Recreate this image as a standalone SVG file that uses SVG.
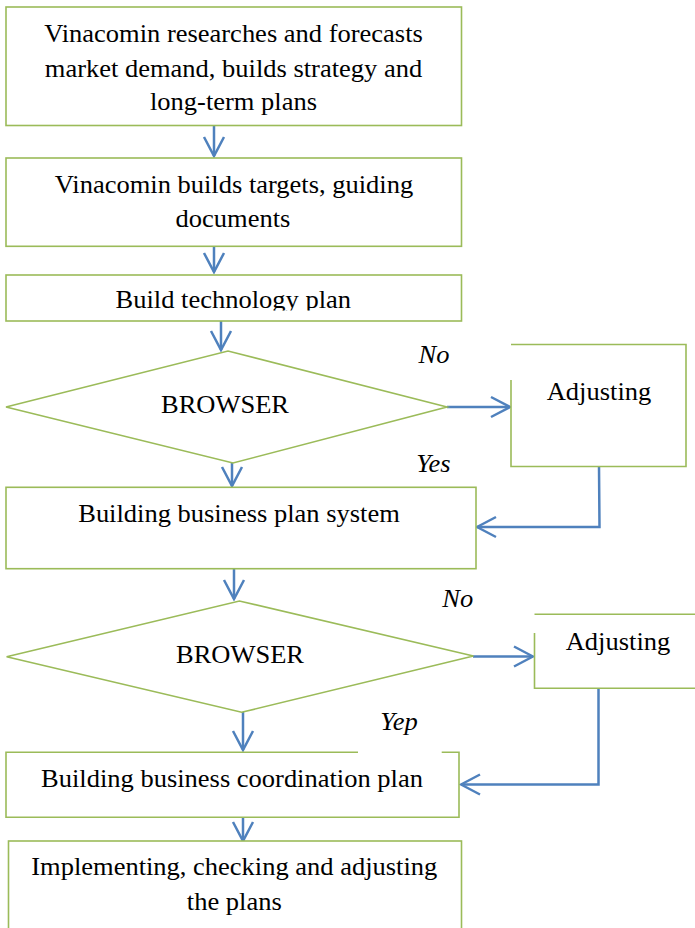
<svg xmlns="http://www.w3.org/2000/svg" width="695" height="928" viewBox="0 0 695 928">
<defs>
<marker id="ah" viewBox="-21 -12 23 24" refX="0" refY="0" markerWidth="23" markerHeight="24" markerUnits="userSpaceOnUse" orient="auto">
<path d="M-19,-10 L0,0 L-19,10" fill="none" stroke="#4F81BD" stroke-width="2.5"/>
</marker>
<clipPath id="clip3"><rect x="0" y="270" width="440" height="40.5"/></clipPath>
</defs>
<rect width="695" height="928" fill="#fff"/>

<g id="connectors" fill="none" stroke="#4F81BD" stroke-width="2.5" marker-end="url(#ah)">
<line x1="214" y1="126" x2="214" y2="156"/>
<line x1="214" y1="247" x2="214" y2="272"/>
<line x1="221" y1="321" x2="221" y2="350"/>
<line x1="447" y1="407" x2="510" y2="407"/>
<line x1="232" y1="463" x2="232" y2="486"/>
<polyline points="599,466 599.5,527 477,527"/>
<line x1="234" y1="569" x2="234" y2="599"/>
<line x1="473" y1="656.5" x2="533" y2="656.5"/>
<line x1="243" y1="712" x2="243" y2="750"/>
<polyline points="598.5,688 598.5,784.5 461,784.5"/>
<line x1="243" y1="817" x2="243" y2="841"/>
</g>

<g fill="#fff" stroke="#9BBB59" stroke-width="1.6">
<g id="n1"><rect x="6" y="7" width="455.5" height="118.5"/></g>
<g id="n2"><rect x="6" y="158" width="455.5" height="88.3"/></g>
<g id="n3"><rect x="6" y="275" width="455.5" height="46"/></g>
<g id="d1"><polygon points="6,407 228,351 447,407 233,463"/></g>
<g id="a1">
<rect x="511" y="344.5" width="175" height="122" stroke="none"/>
<polyline fill="none" points="511,380 511,466.5 686,466.5 686,344.5 511,344.5"/>
</g>
<g id="n4"><rect x="6" y="487.3" width="470" height="81.4"/></g>
<g id="d2"><polygon points="6.6,656.7 239.4,601 473.4,656 241.6,712.3"/></g>
<g id="a2">
<rect x="534.5" y="614.3" width="162" height="74" stroke="none"/>
<polyline fill="none" points="534.5,633 534.5,688.3 697,688.3"/>
<line x1="534.5" y1="614.3" x2="697" y2="614.3"/>
</g>
<g id="n5">
<rect x="6" y="752.3" width="453" height="65" stroke="none"/>
<polyline fill="none" points="358,752.3 6,752.3 6,817.3 459,817.3 459,752.3 441.7,752.3"/>
</g>
<g id="n6"><rect x="8.5" y="841" width="453" height="100"/></g>
</g>

<g id="texts" transform="scale(1.06 1)" font-family="Liberation Serif" font-size="25" fill="#000" text-anchor="middle">
<text x="220.28" y="41.7">Vinacomin researches and forecasts</text>
<text x="220.28" y="76.7">market demand, builds strategy and</text>
<text x="220.28" y="110.5">long-term plans</text>
<text x="220.75" y="192.7">Vinacomin builds targets, guiding</text>
<text x="219.81" y="227.5">documents</text>
<text x="220.09" y="308" clip-path="url(#clip3)">Build technology plan</text>
<text x="212.26" y="413">BROWSER</text>
<text x="565.09" y="400">Adjusting</text>
<text x="225.47" y="522">Building business plan system</text>
<text x="226.42" y="663.3">BROWSER</text>
<text x="583.02" y="650">Adjusting</text>
<text x="218.87" y="786.7">Building business coordination plan</text>
<text x="221.04" y="875">Implementing, checking and adjusting</text>
<text x="221.04" y="910">the plans</text>
<text x="409.43" y="363" font-style="italic">No</text>
<text x="408.96" y="472" font-style="italic">Yes</text>
<text x="431.79" y="607.3" font-style="italic">No</text>
<text x="376.42" y="730" font-style="italic">Yep</text>
</g>
</svg>
